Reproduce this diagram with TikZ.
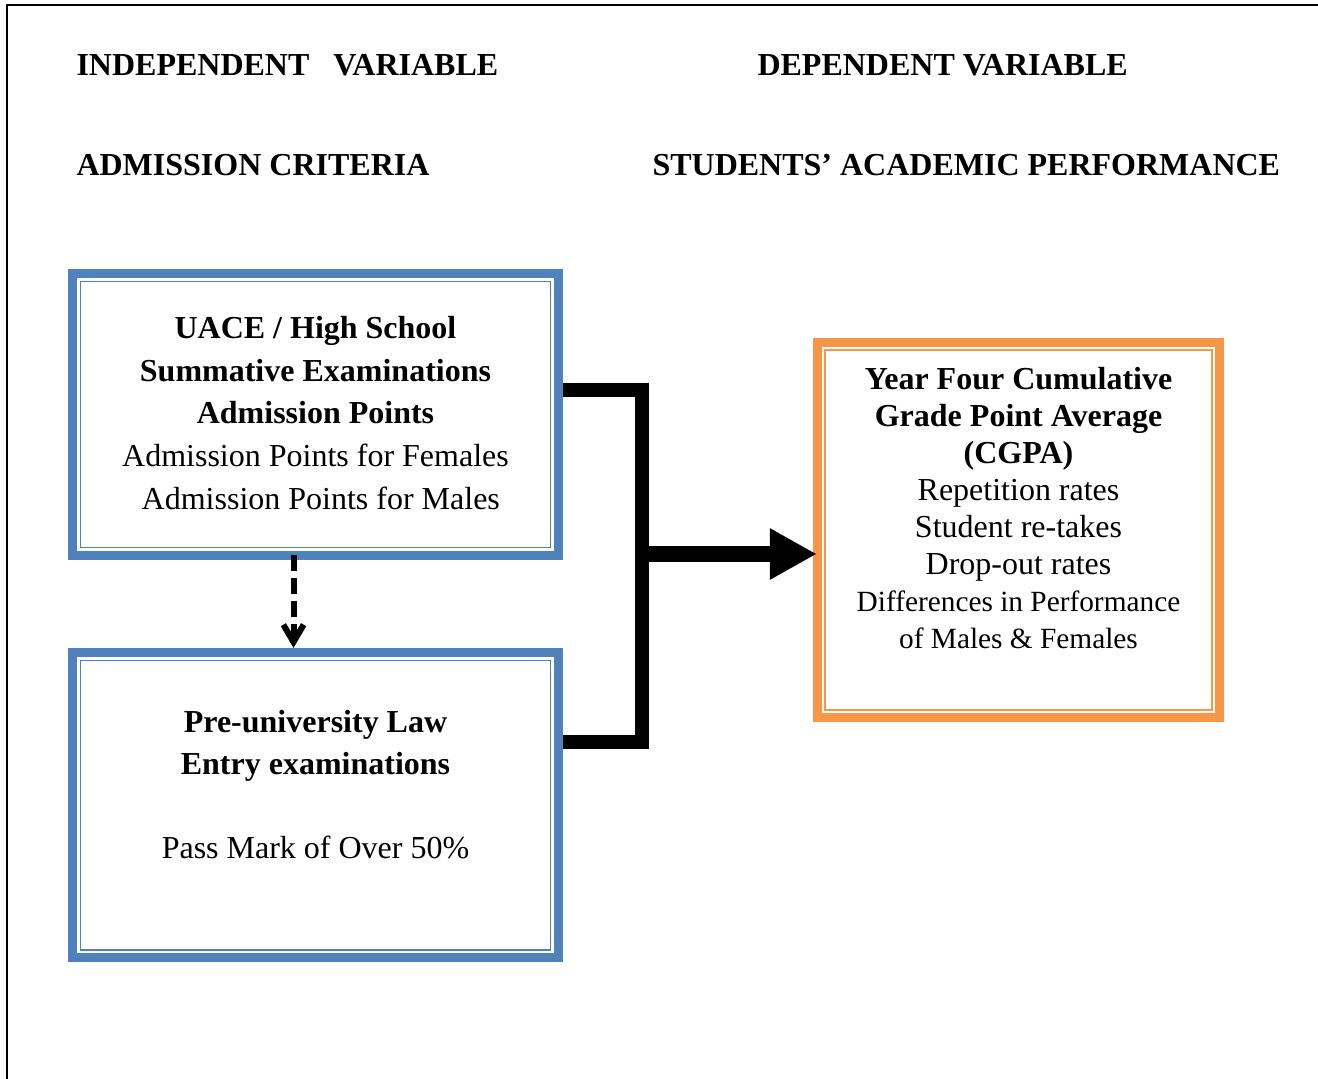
\documentclass[tikz,border=0pt]{standalone}
\usepackage{fontspec}
\setmainfont{Liberation Serif}
\usetikzlibrary{arrows.meta}

\definecolor{critblue}{HTML}{4F81BD}
\definecolor{perforange}{HTML}{F79646}

\begin{document}
\begin{tikzpicture}[x=0.375pt, y=-0.375pt,
        head/.style={anchor=base west, inner sep=0pt, font=\fontsize{12}{14}\selectfont\bfseries},
        crit/.style={draw=critblue, line width=3.4pt, minimum width=182.25pt, inner sep=0pt},
        perf/.style={draw=perforange, line width=3.5pt, minimum width=150.75pt, minimum height=140.6pt, inner sep=0pt},
        thin/.style={line width=0.7pt},
        txt/.style={align=center, inner sep=0pt},
        bracket/.style={line width=5.6pt, line join=miter},
        bigarrow/.style={line width=6pt, -{Triangle[length=17.6pt, width=18pt]}},
        dasharrow/.style={line width=2.25pt, dash pattern=on 6pt off 2.6pt, -{Straight Barb[length=6.5pt, width=7.6pt]}}]
        \useasboundingbox (0,0) rectangle (1318,1078);
        % page frame, runs off to the right and bottom
        \draw[line width=0.8pt] (7,1100) -- (7,5) -- (1340,5);

        \node[head] (H1) at (76,75) {INDEPENDENT\ \ \ VARIABLE};
        \node[head] (H2) at (757,75) {DEPENDENT VARIABLE};
        \node[head] (H3) at (76,175) {ADMISSION CRITERIA};
        \node[head] (H4) at (652,175) {STUDENTS’ ACADEMIC PERFORMANCE};

        % the three boxes
        \node[crit, minimum height=105.75pt] (C1) at (315.5,414.5) {};
        \node[crit, minimum height=114.4pt] (C2) at (315.5,805) {};
        \node[perf] (P1) at (1018.5,530) {};
        \draw[thin, critblue] ([shift={(12.5,12.5)}]C1.north west) rectangle ([shift={(-12.5,-12.5)}]C1.south east);
        \draw[thin, critblue] ([shift={(12.5,12.5)}]C2.north west) rectangle ([shift={(-12.5,-12.5)}]C2.south east);
        \draw[thin, perforange] ([shift={(12.5,12.5)}]P1.north west) rectangle ([shift={(-12.5,-12.5)}]P1.south east);

        \node[txt, font=\fontsize{12}{16}\selectfont] (T1) at (315.5,413) {\textbf{UACE / High School}\\\textbf{Summative Examinations}\\\textbf{Admission Points}\\Admission Points for Females\\\hspace{4pt}Admission Points for Males};
        \node[txt, font=\fontsize{12}{15.75}\selectfont] (T2) at (315.5,785) {\textbf{Pre-university Law}\\\textbf{Entry examinations}\\[15.75pt]Pass Mark of Over 50\%};
        \node[txt, font=\fontsize{12}{13.9}\selectfont] (T3) at (1018.5,508) {\textbf{Year Four Cumulative}\\\textbf{Grade Point Average}\\\textbf{(CGPA)}\\Repetition rates\\Student re-takes\\Drop-out rates\\{\fontsize{11}{12.5}\selectfont Differences in Performance}\\{\fontsize{11}{12.5}\selectfont of Males \& Females}};

        % connectors
        \coordinate (M) at (642,554);
        \draw[dasharrow] ([shift={(-22,-5)}]C1.south) -- ([shift={(-22,0)}]C2.north);
        \draw[bracket] ([shift={(0,-24.5)}]C1.east) -| (M) |- ([shift={(0,-63)}]C2.east);
        \draw[bigarrow] (M) -- ([xshift=1.5pt]M -| P1.west);
    \end{tikzpicture}
\end{document}
